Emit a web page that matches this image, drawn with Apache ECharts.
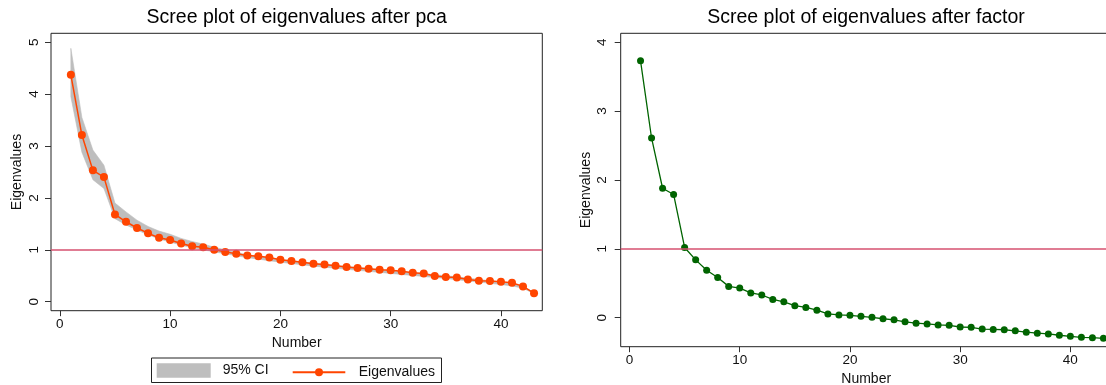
<!DOCTYPE html>
<html><head><meta charset="utf-8">
<script src="https://cdn.jsdelivr.net/npm/echarts@6/dist/echarts.min.js"></script>
<style>html,body{margin:0;padding:0;background:#fff}#c{width:1106px;height:385px}</style>
</head><body><div id="c"></div>
<script>
// ---- data ----
const numbers = [1,2,3,4,5,6,7,8,9,10,11,12,13,14,15,16,17,18,19,20,21,22,23,24,25,26,27,28,29,30,31,32,33,34,35,36,37,38,39,40,41,42,43];
const pcaEigen = [4.37,3.21,2.53,2.40,1.68,1.54,1.42,1.32,1.23,1.19,1.12,1.07,1.05,1.00,0.96,0.925,0.89,0.875,0.85,0.81,0.785,0.76,0.73,0.715,0.695,0.67,0.65,0.635,0.615,0.605,0.585,0.56,0.545,0.495,0.475,0.465,0.43,0.405,0.40,0.385,0.365,0.295,0.165];
const ciUpper = [4.88,3.55,2.92,2.63,1.90,1.73,1.57,1.45,1.36,1.30,1.22,1.16,1.11,1.05,1.00,0.95,0.905,0.875,0.845,0.815,0.79,0.765,0.74,0.72,0.70,0.68,0.66,0.64,0.62,0.60,0.58,0.56,0.54,0.52,0.50,0.48,0.455,0.43,0.405,0.38,0.35,0.30,0.175];
const ciLower = [3.95,2.88,2.35,2.18,1.60,1.48,1.38,1.29,1.21,1.15,1.09,1.04,1.00,0.96,0.925,0.885,0.85,0.82,0.79,0.76,0.735,0.71,0.685,0.665,0.645,0.625,0.605,0.585,0.565,0.545,0.525,0.505,0.485,0.465,0.445,0.425,0.40,0.38,0.355,0.33,0.305,0.26,0.155];
const factorEigen = [3.73,2.61,1.88,1.79,1.02,0.84,0.69,0.585,0.455,0.43,0.36,0.33,0.265,0.23,0.175,0.15,0.11,0.055,0.04,0.035,0.02,0.005,-0.015,-0.03,-0.06,-0.08,-0.09,-0.105,-0.11,-0.135,-0.14,-0.165,-0.17,-0.175,-0.19,-0.21,-0.225,-0.235,-0.255,-0.27,-0.285,-0.29,-0.30];
const xTicks = [0,10,20,30,40];
const pcaYTicks = [0,1,2,3,4,5];
const factorYTicks = [0,1,2,3,4];
const refValue = 1;
const titles = ['Scree plot of eigenvalues after pca','Scree plot of eigenvalues after factor'];

// ---- styling ----
const FONT = '"Liberation Sans", Arial, sans-serif';
const ORANGE = '#ff4500', GREEN = '#006400', GREY = '#bebebe', RED = '#d6506f', INK = '#111';
const pair = ys => numbers.map((n, i) => [n, ys[i]]);

function xAx(g) {
  return {
    type: 'value', gridIndex: g, min: -0.8, max: 43.75,
    name: 'Number', nameLocation: 'middle', nameGap: 22,
    nameTextStyle: {fontFamily: FONT, fontSize: 14, color: INK},
    axisLine: {show: false, onZero: false}, splitLine: {show: false},
    axisTick: {show: true, customValues: xTicks, length: 5.5, lineStyle: {color: '#333', width: 1}},
    axisLabel: {customValues: xTicks, margin: 7, fontFamily: FONT, fontSize: 13.5, color: INK}
  };
}
function yAx(g, min, max, ticks, margin, gap) {
  return {
    type: 'value', gridIndex: g, min: min, max: max,
    name: 'Eigenvalues', nameLocation: 'middle', nameGap: gap, nameRotate: 90,
    nameTextStyle: {fontFamily: FONT, fontSize: 14, color: INK},
    axisLine: {show: false, onZero: false}, splitLine: {show: false},
    axisTick: {show: true, customValues: ticks, length: 6, lineStyle: {color: '#333', width: 1}},
    axisLabel: {customValues: ticks, rotate: 90, margin: margin, fontFamily: FONT, fontSize: 13.5, color: INK}
  };
}
const gridBase = {show: true, borderColor: '#222', borderWidth: 1, containLabel: false, outerBoundsMode: 'none'};

// CI band polygon, drawn once through the axis scales (api.coord)
function renderBand(params, api) {
  if (params.dataIndex !== 0) return null;
  const pts = [];
  for (let i = 0; i < numbers.length; i++) pts.push(api.coord([numbers[i], ciUpper[i]]));
  for (let i = numbers.length - 1; i >= 0; i--) pts.push(api.coord([numbers[i], ciLower[i]]));
  return {
    type: 'polygon', shape: {points: pts},
    style: {fill: GREY, stroke: GREY, lineWidth: 0.6},
    clipPath: {type: 'rect', shape: {x: params.coordSys.x, y: params.coordSys.y,
      width: params.coordSys.width, height: params.coordSys.height}}
  };
}

const option = {
  animation: false,
  backgroundColor: '#fff',
  title: [
    {text: titles[0], left: 296.7, top: 8, padding: 0, textAlign: 'center',
     textStyle: {fontFamily: FONT, fontSize: 19.5, fontWeight: 'normal', color: '#000'}},
    {text: titles[1], left: 866, top: 8, padding: 0, textAlign: 'center',
     textStyle: {fontFamily: FONT, fontSize: 19.5, fontWeight: 'normal', color: '#000'}}
  ],
  grid: [
    Object.assign({left: 51, top: 33.3, width: 491.3, height: 277.4}, gridBase),
    Object.assign({left: 620.7, top: 33.3, width: 491, height: 313.4}, gridBase)
  ],
  xAxis: [xAx(0), xAx(1)],
  yAxis: [yAx(0, -0.173, 5.17, pcaYTicks, 10, 27), yAx(1, -0.421, 4.13, factorYTicks, 11, 28)],
  legend: [
    {left: 156.7, top: 363.3, padding: 0, itemWidth: 54, itemHeight: 14.4, selectedMode: false,
     data: [{name: '95% CI', icon: 'rect', itemStyle: {color: GREY}}],
     textStyle: {fontFamily: FONT, fontSize: 14, color: INK, padding: [0, 0, 0, 7]}},
    {left: 291.7, top: 365.2, padding: 0, itemWidth: 52.6, itemHeight: 10, selectedMode: false,
     data: ['Eigenvalues'],
     textStyle: {fontFamily: FONT, fontSize: 14, color: INK, padding: [0, 0, 0, 8.4]}}
  ],
  graphic: [{type: 'rect', silent: true, z: -1,
    shape: {x: 151.5, y: 358, width: 290, height: 24.5},
    style: {fill: 'none', stroke: '#222', lineWidth: 1}}],
  series: [
    {name: '95% CI', type: 'custom', xAxisIndex: 0, yAxisIndex: 0, silent: true, z: 1,
     data: numbers.map((n, i) => [n, ciLower[i], ciUpper[i]]),
     encode: {x: 0, y: [1, 2]},
     itemStyle: {color: GREY}, renderItem: renderBand},
    {name: 'ref1', type: 'line', xAxisIndex: 0, yAxisIndex: 0, data: [], z: 2,
     markLine: {silent: true, symbol: 'none', label: {show: false},
       lineStyle: {color: RED, width: 1.6, type: 'solid'}, data: [{yAxis: refValue}]}},
    {name: 'Eigenvalues', type: 'line', xAxisIndex: 0, yAxisIndex: 0, data: pair(pcaEigen),
     symbol: 'circle', symbolSize: 8, itemStyle: {color: ORANGE}, lineStyle: {color: ORANGE, width: 1.5}, z: 3},
    {name: 'ref2', type: 'line', xAxisIndex: 1, yAxisIndex: 1, data: [], z: 2,
     markLine: {silent: true, symbol: 'none', label: {show: false},
       lineStyle: {color: RED, width: 1.6, type: 'solid'}, data: [{yAxis: refValue}]}},
    {name: 'Factor eigenvalues', type: 'line', xAxisIndex: 1, yAxisIndex: 1, data: pair(factorEigen),
     symbol: 'circle', symbolSize: 7, itemStyle: {color: GREEN}, lineStyle: {color: GREEN, width: 1.3}, z: 3}
  ]
};
const chart = echarts.init(document.getElementById('c'), null, {renderer: 'canvas'});
chart.setOption(option);
</script>
</body></html>
